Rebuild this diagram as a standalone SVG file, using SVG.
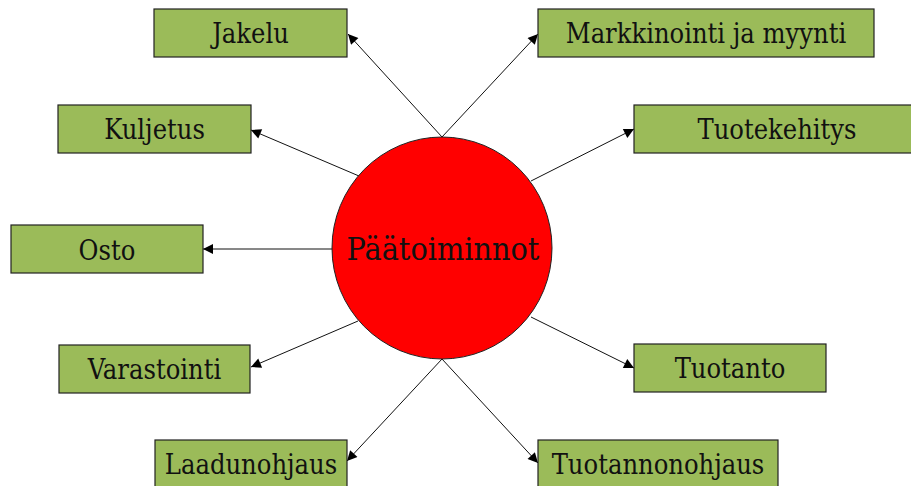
<svg xmlns="http://www.w3.org/2000/svg" width="911" height="486" viewBox="0 0 911 486">
  <style>
    .box { fill: #9BBB59; stroke: #222; stroke-width: 1.2; }
    text { font-family: 'DejaVu Serif Condensed', 'DejaVu Serif', serif; font-stretch: condensed; fill: #111; text-anchor: middle; }
    .lbl { font-size: 27px; }
    .hub { fill: #FF0000; stroke: #222; stroke-width: 1; }
    .hubtxt { font-size: 32px; }
    .edge { stroke: #111; stroke-width: 1; fill: none; marker-end: url(#arrow); }
  </style>
  <defs>
    <marker id="arrow" viewBox="0 0 10 10" refX="10" refY="5" markerWidth="12" markerHeight="10" markerUnits="userSpaceOnUse" orient="auto">
      <path d="M0,0 L10,5 L0,10 Z" fill="#000"/>
    </marker>
  </defs>

  <rect width="911" height="486" fill="#fff"/>

  <!-- connectors from the hub to each function -->
  <g id="connectors">
    <line class="edge" x1="442" y1="137" x2="348" y2="34"/>
    <line class="edge" x1="442" y1="137" x2="538" y2="34"/>
    <line class="edge" x1="359" y1="176" x2="251" y2="130"/>
    <line class="edge" x1="531" y1="181" x2="634" y2="129"/>
    <line class="edge" x1="332" y1="249" x2="203" y2="249"/>
    <line class="edge" x1="358" y1="321" x2="251" y2="367"/>
    <line class="edge" x1="442" y1="359" x2="347" y2="461"/>
    <line class="edge" x1="531" y1="317" x2="634" y2="368"/>
    <line class="edge" x1="442" y1="359" x2="538" y2="463"/>
  </g>

  <g id="hub">
    <ellipse class="hub" cx="442" cy="248" rx="110" ry="111"/>
    <text class="hubtxt" x="443" y="260">Päätoiminnot</text>
  </g>

  <g id="jakelu">
    <rect class="box" x="154" y="9" width="193" height="48"/>
    <text class="lbl" x="250.5" y="43">Jakelu</text>
  </g>
  <g id="markkinointi">
    <rect class="box" x="538" y="9" width="336" height="48"/>
    <text class="lbl" x="706" y="43">Markkinointi ja myynti</text>
  </g>
  <g id="kuljetus">
    <rect class="box" x="58" y="105" width="193" height="48"/>
    <text class="lbl" x="154.5" y="139">Kuljetus</text>
  </g>
  <g id="tuotekehitys">
    <rect class="box" x="634" y="105" width="286" height="48"/>
    <text class="lbl" x="777" y="139">Tuotekehitys</text>
  </g>
  <g id="osto">
    <rect class="box" x="11" y="225" width="192" height="48"/>
    <text class="lbl" x="107" y="260">Osto</text>
  </g>
  <g id="varastointi">
    <rect class="box" x="59" y="345" width="191" height="48"/>
    <text class="lbl" x="154.5" y="379">Varastointi</text>
  </g>
  <g id="tuotanto">
    <rect class="box" x="634" y="344" width="192" height="48"/>
    <text class="lbl" x="730" y="378">Tuotanto</text>
  </g>
  <g id="laadunohjaus">
    <rect class="box" x="155" y="440" width="192" height="48"/>
    <text class="lbl" x="251" y="474">Laadunohjaus</text>
  </g>
  <g id="tuotannonohjaus">
    <rect class="box" x="538" y="440" width="240" height="48"/>
    <text class="lbl" x="658" y="474">Tuotannonohjaus</text>
  </g>
</svg>
